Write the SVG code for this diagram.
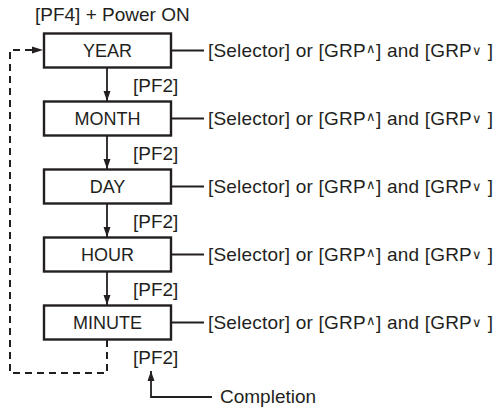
<svg xmlns="http://www.w3.org/2000/svg" width="500" height="410" viewBox="0 0 500 410">
<defs>
<marker id="ah" viewBox="0 0 10 12" refX="10" refY="6" markerWidth="10" markerHeight="12" markerUnits="userSpaceOnUse" orient="auto">
<path d="M0,2.5 L10,6 L0,9.5 Z" fill="#231f20"/>
</marker>
<style>
.box{fill:#fff;stroke:#231f20;stroke-width:2.4}
.t{font-family:"Liberation Sans",Arial,sans-serif;font-size:19px;fill:#231f20}
.b{font-size:18px;text-anchor:middle}
.s{letter-spacing:0.2px}
.ln{stroke:#231f20;stroke-width:1.8;fill:none}
.ds{stroke:#231f20;stroke-width:2;fill:none;stroke-dasharray:7,5}
.sm{font-size:12.5px}
</style>
</defs>
<rect width="500" height="410" fill="#fff"/>
<text class="t" x="35" y="21">[PF4] + Power ON</text>
<g id="connectors">
<line class="ln" x1="107" y1="67" x2="107" y2="101" marker-end="url(#ah)"/>
<line class="ln" x1="107" y1="135" x2="107" y2="169" marker-end="url(#ah)"/>
<line class="ln" x1="107" y1="203" x2="107" y2="237" marker-end="url(#ah)"/>
<line class="ln" x1="107" y1="271" x2="107" y2="305" marker-end="url(#ah)"/>
<line class="ln" x1="171" y1="50.5" x2="204" y2="50.5"/>
<line class="ln" x1="171" y1="118.5" x2="204" y2="118.5"/>
<line class="ln" x1="171" y1="186.5" x2="204" y2="186.5"/>
<line class="ln" x1="171" y1="254.5" x2="204" y2="254.5"/>
<line class="ln" x1="171" y1="322.5" x2="204" y2="322.5"/>
<path class="ds" d="M107,340 V373 H10 V50 H40"/>
<path d="M32,46.5 L43,50 L32,53.5 Z" fill="#231f20"/>
<path class="ln" d="M212,397 H151 V371" marker-end="url(#ah)"/>
<text class="t" x="133" y="92">[PF2]</text>
<text class="t" x="133" y="160">[PF2]</text>
<text class="t" x="133" y="228">[PF2]</text>
<text class="t" x="133" y="296">[PF2]</text>
<text class="t" x="133" y="364">[PF2]</text>
<text class="t" x="220" y="403">Completion</text>
</g>
<g id="year"><rect class="box" x="44" y="33.5" width="127" height="34"/><text class="t b" x="107.5" y="57">YEAR</text>
<text class="t s" x="208" y="57">[Selector] or [GRP<tspan class="sm" dy="-4">∧</tspan><tspan dy="4">] and [GRP</tspan><tspan class="sm" dy="-2">∨</tspan><tspan dy="2"> ]</tspan></text></g>
<g id="month"><rect class="box" x="44" y="101.5" width="127" height="34"/><text class="t b" x="107.5" y="125">MONTH</text>
<text class="t s" x="208" y="125">[Selector] or [GRP<tspan class="sm" dy="-4">∧</tspan><tspan dy="4">] and [GRP</tspan><tspan class="sm" dy="-2">∨</tspan><tspan dy="2"> ]</tspan></text></g>
<g id="day"><rect class="box" x="44" y="169.5" width="127" height="34"/><text class="t b" x="107.5" y="193">DAY</text>
<text class="t s" x="208" y="193">[Selector] or [GRP<tspan class="sm" dy="-4">∧</tspan><tspan dy="4">] and [GRP</tspan><tspan class="sm" dy="-2">∨</tspan><tspan dy="2"> ]</tspan></text></g>
<g id="hour"><rect class="box" x="44" y="237.5" width="127" height="34"/><text class="t b" x="107.5" y="261">HOUR</text>
<text class="t s" x="208" y="261">[Selector] or [GRP<tspan class="sm" dy="-4">∧</tspan><tspan dy="4">] and [GRP</tspan><tspan class="sm" dy="-2">∨</tspan><tspan dy="2"> ]</tspan></text></g>
<g id="minute"><rect class="box" x="44" y="305.5" width="127" height="34"/><text class="t b" x="107.5" y="329">MINUTE</text>
<text class="t s" x="208" y="329">[Selector] or [GRP<tspan class="sm" dy="-4">∧</tspan><tspan dy="4">] and [GRP</tspan><tspan class="sm" dy="-2">∨</tspan><tspan dy="2"> ]</tspan></text></g>
</svg>
